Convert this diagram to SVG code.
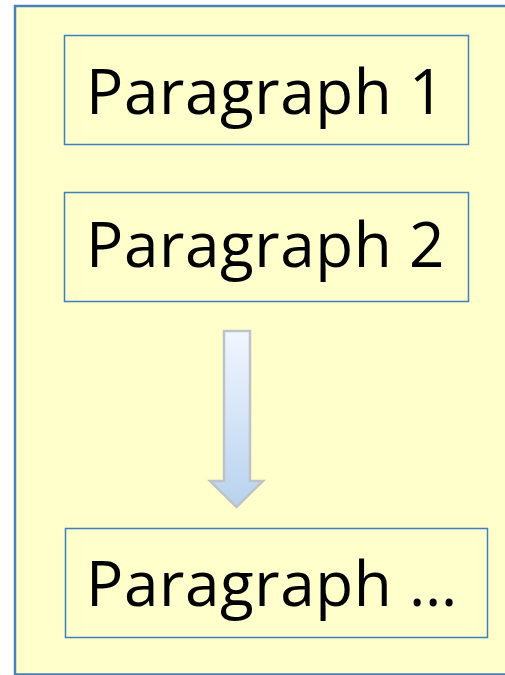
<svg xmlns="http://www.w3.org/2000/svg" width="505" height="675" viewBox="0 0 505 675">
  <style>
    .frame { fill: #FFFFCC; stroke: #4F7FB8; stroke-width: 2.5; }
    .box { fill: #FFFFCC; stroke: #3F7FC0; stroke-width: 1.5; }
    .label { font-family: "Open Sans", "Liberation Sans", Arial, sans-serif; font-size: 62px; letter-spacing: 0.6px; fill: #000; }
    .flow { fill: url(#flowFill); stroke: #BFC3C8; stroke-width: 2.5; stroke-linejoin: miter; }
  </style>
  <defs>
    <linearGradient id="flowFill" x1="0" y1="0" x2="0" y2="1">
      <stop offset="0" stop-color="#F2F6FF"/>
      <stop offset="1" stop-color="#B7D2EE"/>
    </linearGradient>
  </defs>

  <!-- page background -->
  <rect x="0" y="0" width="505" height="675" fill="#FFFFFF"/>
  <rect class="frame" x="15" y="6" width="500" height="668.5"/>

  <g id="paragraph-1">
    <rect class="box" x="64.5" y="35.5" width="404" height="109"/>
    <text class="label" x="86" y="114">Paragraph 1</text>
  </g>

  <g id="paragraph-2">
    <rect class="box" x="64.5" y="192.5" width="404" height="109"/>
    <text class="label" x="86" y="267">Paragraph 2</text>
  </g>

  <g id="paragraph-n">
    <rect class="box" x="65.5" y="528.5" width="422" height="109"/>
    <text class="label" x="86" y="606">Paragraph …</text>
  </g>

  <g id="connectors">
    <path class="flow" d="M224 331 H250 V481 H263 L236.5 507 L210 481 H224 Z"/>
  </g>
</svg>
